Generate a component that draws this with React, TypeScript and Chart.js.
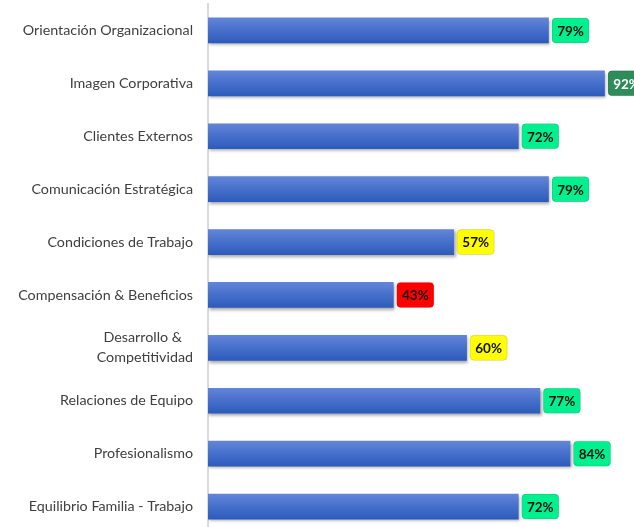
import React, { useEffect, useRef } from "react";
import { Chart, registerables } from "chart.js";

Chart.register(...registerables);

const categories: (string | string[])[] = [
  "Orientación Organizacional",
  "Imagen Corporativa",
  "Clientes Externos",
  "Comunicación Estratégica",
  "Condiciones de Trabajo",
  "Compensación & Beneficios",
  ["Desarrollo &\u00a0\u00a0\u00a0", "Competitividad"],
  "Relaciones de Equipo",
  "Profesionalismo",
  "Equilibrio Familia - Trabajo",
];
const values = [79, 92, 72, 79, 57, 43, 60, 77, 84, 72];
const valueLabels = values.map((v) => v + "%");

function boxStyle(v: number) {
  if (v >= 90) return { fill: "#2e8b5a", text: "#ffffff" };
  if (v >= 70) return { fill: "#00f08f", text: "#111111" };
  if (v >= 50) return { fill: "#ffff00", text: "#111111" };
  return { fill: "#ff0000", text: "#111111" };
}

const barStylePlugin = {
  id: "barStyle",
  beforeDatasetsDraw(chart: any) {
    const ctx = chart.ctx;
    const meta = chart.getDatasetMeta(0);
    meta.data.forEach((el: any) => {
      const { y, height } = el.getProps(["y", "height"], true);
      const g = ctx.createLinearGradient(0, y - height / 2, 0, y + height / 2);
      g.addColorStop(0, "#6285d8");
      g.addColorStop(0.5, "#466fcb");
      g.addColorStop(1, "#2d5bbb");
      el.options = { ...el.options, backgroundColor: g };
    });
  },
  beforeDatasetDraw(chart: any) {
    const ctx = chart.ctx;
    ctx.shadowColor = "rgba(0,0,0,0.35)";
    ctx.shadowOffsetX = 1.5;
    ctx.shadowOffsetY = 2;
    ctx.shadowBlur = 3;
  },
  afterDatasetDraw(chart: any) {
    const ctx = chart.ctx;
    ctx.shadowColor = "rgba(0,0,0,0)";
    ctx.shadowOffsetX = 0;
    ctx.shadowOffsetY = 0;
    ctx.shadowBlur = 0;
  },
  afterDatasetsDraw(chart: any) {
    const ctx = chart.ctx;
    const meta = chart.getDatasetMeta(0);
    ctx.save();
    meta.data.forEach((el: any, i: number) => {
      const { x, y, height } = el.getProps(["x", "y", "height"], true);
      const st = boxStyle(values[i]);
      const bx = x + 3.5;
      const bw = 37;
      const bh = height;
      const by = y - bh / 2;
      ctx.beginPath();
      ctx.roundRect(bx, by, bw, bh, 4);
      ctx.fillStyle = st.fill;
      ctx.fill();
      ctx.strokeStyle = "rgba(0,0,0,0.12)";
      ctx.lineWidth = 1;
      ctx.stroke();
      ctx.fillStyle = st.text;
      ctx.font = "bold 13.5px Lato";
      ctx.textAlign = "center";
      ctx.textBaseline = "middle";
      ctx.fillText(valueLabels[i], bx + bw / 2, y + 1);
    });
    ctx.restore();
  },
};

export default function App() {
  const ref = useRef<HTMLCanvasElement>(null);
  useEffect(() => {
    if (!ref.current) return;
    const chart = new Chart(ref.current, {
      type: "bar",
      data: {
        labels: categories as any,
        datasets: [
          {
            data: values,
            backgroundColor: "#466fcb",
            borderWidth: 0,
            barThickness: 25,
          },
        ],
      },
      options: {
        indexAxis: "y",
        animation: false,
        responsive: false,
        maintainAspectRatio: false,
        devicePixelRatio: 1,
        layout: { padding: { top: 4, right: 41, bottom: 1, left: 0 } },
        plugins: {
          legend: { display: false },
          tooltip: { enabled: false },
        },
        scales: {
          x: { display: false, min: 0, max: 100 },
          y: {
            afterFit(scale: any) {
              scale.width = 208;
              scale.paddingTop = 0;
              scale.paddingBottom = 0;
            },
            grid: { display: false, drawTicks: false },
            border: { display: true, color: "#d9d9d9", width: 2 },
            ticks: {
              padding: 15,
              color: "#404040",
              font: { family: "Lato", size: 14.3, lineHeight: 1.4 },
            },
          },
        },
      },
      plugins: [barStylePlugin],
    });
    return () => chart.destroy();
  }, []);
  return (
    <div
      style={{
        position: "fixed",
        left: 0,
        top: 0,
        width: 634,
        height: 527,
        overflow: "hidden",
        background: "#fff",
      }}
    >
      <canvas ref={ref} width={680} height={534} style={{ display: "block" }} />
    </div>
  );
}
